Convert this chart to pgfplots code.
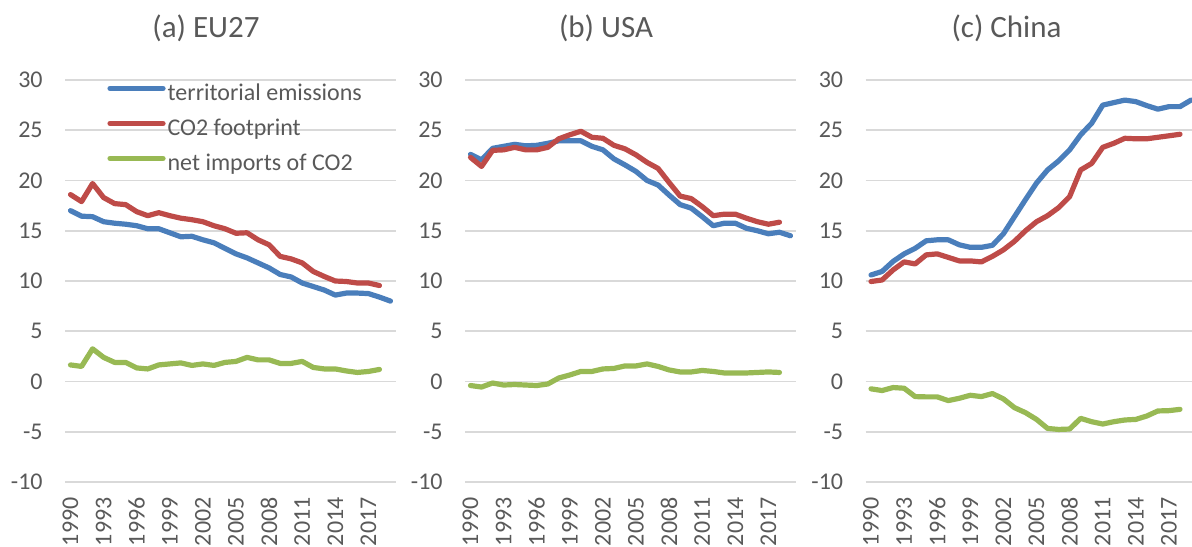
\documentclass[border=0pt]{standalone}
\usepackage{pgfplots}
\pgfplotsset{compat=1.18}
\usepackage{pgfplotstable}
\usepackage{fontspec}
\setmainfont{Carlito}
\definecolor{cblue}{HTML}{4A7EBB}
\definecolor{cred}{HTML}{BE4B48}
\definecolor{cgreen}{HTML}{98B954}
\definecolor{tgrey}{HTML}{595959}
\definecolor{ggrey}{HTML}{D9D9D9}

\pgfplotstableread{
year terr foot net
1990 17.0 18.6 1.65
1991 16.45 17.9 1.5
1992 16.4 19.7 3.25
1993 15.9 18.3 2.4
1994 15.75 17.7 1.9
1995 15.65 17.6 1.9
1996 15.5 16.9 1.35
1997 15.2 16.5 1.25
1998 15.2 16.8 1.65
1999 14.8 16.5 1.75
2000 14.4 16.25 1.85
2001 14.45 16.1 1.6
2002 14.1 15.9 1.75
2003 13.8 15.5 1.6
2004 13.25 15.2 1.9
2005 12.7 14.75 2.0
2006 12.3 14.8 2.4
2007 11.8 14.1 2.15
2008 11.3 13.6 2.15
2009 10.65 12.45 1.8
2010 10.4 12.2 1.8
2011 9.8 11.8 2.0
2012 9.45 10.95 1.4
2013 9.1 10.45 1.25
2014 8.6 10.0 1.25
2015 8.8 9.95 1.05
2016 8.8 9.8 0.9
2017 8.75 9.8 1.0
2018 8.4 9.55 1.2
2019 8.0 nan nan
}\eudata

\pgfplotstableread{
year terr foot net
1990 22.6 22.3 -0.4
1991 22.05 21.4 -0.55
1992 23.2 23.0 -0.15
1993 23.4 23.05 -0.35
1994 23.6 23.3 -0.3
1995 23.45 23.05 -0.35
1996 23.5 23.05 -0.4
1997 23.7 23.3 -0.25
1998 23.95 24.15 0.35
1999 23.95 24.55 0.65
2000 23.95 24.9 1.0
2001 23.4 24.3 1.0
2002 23.05 24.2 1.25
2003 22.15 23.5 1.3
2004 21.55 23.15 1.55
2005 20.9 22.55 1.55
2006 20.0 21.8 1.75
2007 19.55 21.2 1.5
2008 18.55 19.8 1.15
2009 17.6 18.45 0.95
2010 17.25 18.2 0.95
2011 16.4 17.4 1.1
2012 15.5 16.5 1.0
2013 15.75 16.65 0.85
2014 15.75 16.65 0.85
2015 15.25 16.25 0.85
2016 15.0 15.9 0.9
2017 14.7 15.65 0.95
2018 14.85 15.85 0.9
2019 14.5 nan nan
}\usdata

\pgfplotstableread{
year terr foot net
1990 10.6 9.95 -0.73
1991 10.95 10.1 -0.9
1992 11.95 11.1 -0.6
1993 12.7 11.9 -0.67
1994 13.25 11.7 -1.5
1995 14.0 12.6 -1.53
1996 14.1 12.7 -1.53
1997 14.1 12.35 -1.9
1998 13.6 12.0 -1.67
1999 13.35 12.0 -1.37
2000 13.35 11.9 -1.5
2001 13.55 12.45 -1.2
2002 14.7 13.1 -1.73
2003 16.4 13.95 -2.6
2004 18.1 15.0 -3.1
2005 19.75 15.9 -3.77
2006 21.05 16.5 -4.67
2007 21.95 17.3 -4.77
2008 23.05 18.4 -4.73
2009 24.55 21.05 -3.67
2010 25.7 21.7 -4.0
2011 27.5 23.3 -4.23
2012 27.75 23.7 -4.0
2013 28.0 24.2 -3.83
2014 27.85 24.15 -3.77
2015 27.45 24.15 -3.43
2016 27.1 24.3 -2.93
2017 27.35 24.45 -2.9
2018 27.35 24.6 -2.77
2019 28.0 nan nan
}\cndata

\pgfplotsset{
  panel/.style={
    scale only axis, width=165.5pt, height=201pt,
    anchor=south west,
    xmin=1989.5, xmax=2019.5, ymin=-10, ymax=30,
    ytick={-10,-5,...,30}, xtick={1990,1993,...,2017},
    axis line style={draw=none}, tick style={draw=none},
    ymajorgrids, grid style={ggrey, line width=0.8pt},
    /pgf/number format/assume math mode=true,
    /pgf/number format/1000 sep={},
    xticklabel style={inner sep=0pt, rotate=90, anchor=east, font=\fontsize{12}{14}\selectfont, text=tgrey},
    xticklabel shift=7.5pt,
    yticklabel style={anchor=east, inner sep=0pt, font=\fontsize{12}{14}\selectfont, text=tgrey},
    yticklabel shift=11pt,
    title style={at={(axis description cs:0.426,1.099)}, anchor=center, inner sep=0pt, font=\fontsize{15.5}{18}\selectfont, text=tgrey},
    every axis plot/.append style={line width=2.6pt, line join=round, line cap=round, mark=none},
    legend image code/.code={\draw[#1, line width=2.6pt, line cap=round] (0pt,0.3em) -- (26.5pt,0.3em);},
  }
}

\begin{document}
\begin{tikzpicture}
\useasboundingbox (0,0) rectangle (596pt,273pt);
\begin{axis}[panel, at={(32.5pt,32pt)}, title={(a) EU27},
  legend style={at={(axis description cs:0.127,1.0)}, anchor=north west, draw=none, fill=none,
    inner sep=0pt, font=\fontsize{12}{14}\selectfont, text=tgrey, row sep=3.5pt,
    nodes={inner sep=1pt, text height=9pt, text depth=3pt}},
  legend cell align=left]
\addplot[cblue] table[x=year,y=terr]{\eudata};
\addplot[cred] table[x=year,y=foot]{\eudata};
\addplot[cgreen] table[x=year,y=net]{\eudata};
\legend{territorial emissions, CO2 footprint, net imports of CO2}
\end{axis}
\begin{axis}[panel, at={(232.5pt,32pt)}, title={(b) USA}]
\addplot[cblue] table[x=year,y=terr]{\usdata};
\addplot[cred] table[x=year,y=foot]{\usdata};
\addplot[cgreen] table[x=year,y=net]{\usdata};
\end{axis}
\begin{axis}[panel, at={(432.75pt,32pt)}, title={(c) China}]
\addplot[cblue] table[x=year,y=terr]{\cndata};
\addplot[cred] table[x=year,y=foot]{\cndata};
\addplot[cgreen] table[x=year,y=net]{\cndata};
\end{axis}
\end{tikzpicture}
\end{document}
